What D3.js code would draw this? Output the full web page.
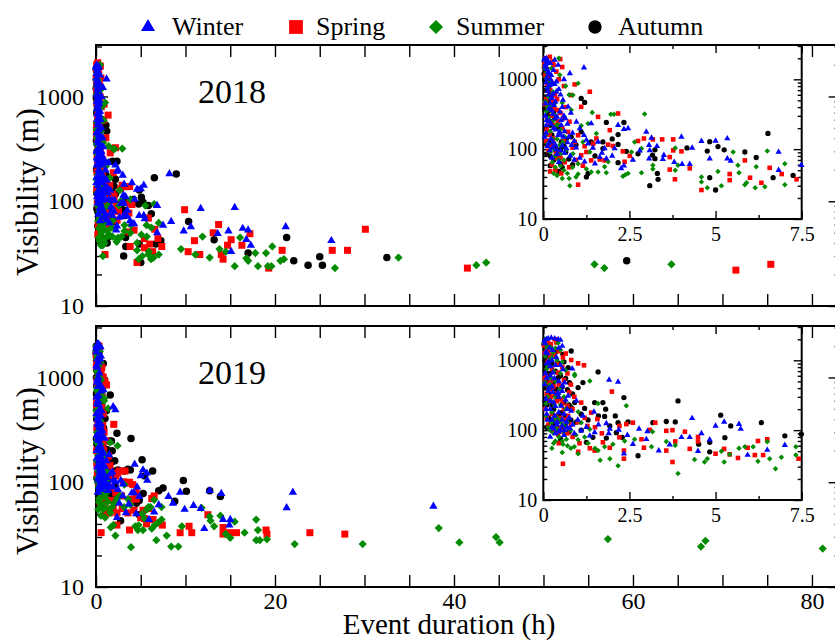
<!DOCTYPE html>
<html>
<head>
<meta charset="utf-8">
<script src="https://cdn.jsdelivr.net/npm/d3@7"></script>
<style>
  body { margin: 0; background: #fff; }
  svg { display: block; }
</style>
</head>
<body>
<svg id="chart" width="835" height="641"></svg>
<script>
// data: [event duration (h), visibility (m)]
const winter2018 = [[0.04,1890],[0.09,1990],[0.14,1786],[0.14,1290],[0.23,1150],[0.43,1603],[0.77,1216],[1.18,1466],[0.38,925],[0.19,827],[0.38,664],[0.23,532],[0.57,505],[0.31,427],[0.72,404],[0.48,343],[0.34,276],[0.64,276],[0.96,245],[0.09,221],[0.52,221],[2.17,221],[1.39,233],[2.46,198],[2.34,193],[1.06,198],[0.62,180],[2.99,177],[0.43,158],[1.18,158],[0.74,150],[4.01,150],[5.34,142],[3.14,145],[1.25,135],[5.0,131],[4.59,130],[0.28,127],[1.59,127],[0.82,114],[3.07,114],[4.32,104],[1.44,104],[0.67,102],[2.07,102],[1.78,102],[0.19,96],[3.09,96],[6.83,91],[3.5,82],[1.64,77],[1.06,75],[1.83,73],[3.07,73],[4.83,73],[5.34,73],[3.47,72],[5.44,68],[4.25,61],[4.03,61],[2.34,58],[7.49,59],[2.26,53],[6.83,50],
  [0.05,1500],[0.1,1050],[0.12,760],[0.16,600],[0.2,450],[0.25,360],[0.06,300],[0.18,250],[0.3,200],[0.08,170],[0.22,140],[0.35,115],[0.12,110],[0.5,95],[0.4,85],[0.28,620],[0.33,850],[0.45,720],[0.55,400],[0.6,300],[0.7,230],[0.85,170],[0.9,130],[0.5,160],[0.3,1350],[0.2,1700],
  [0.03,1950],[0.07,1650],[0.11,1400],[0.16,1200],[0.21,1000],[0.26,880],[0.08,900],[0.13,680],[0.24,560],[0.35,480],[0.06,450],[0.17,380],[0.28,320],[0.4,290],[0.52,260],[0.1,260],[0.22,230],[0.36,190],[0.47,175],[0.58,150],[0.04,150],[0.15,120],[0.27,105],[0.39,98],[0.62,88],[0.78,80],[0.9,70],[1.2,66],[1.5,62],[1.7,88],[2.0,80],[2.6,70],[2.8,95],[3.3,110],[3.8,65],[0.95,105],[1.3,120],[0.7,125],[0.55,112],[0.25,75],[0.45,65],[0.33,1900],[0.6,1000],[0.5,600],[0.8,330],
  [8.2,183],[8.4,64],[9.8,52],[10.6,57],[11.7,85],[13.6,49],[14.8,52],[15.5,87],[16.4,55],[17.0,53],[16.8,43],[17.3,38],[15.1,33],[21.2,57],[26.3,42]];
const spring2018 = [[0.04,1786],[0.19,2100],[0.49,1950],[0.38,1290],[0.23,925],[0.91,845],[1.35,664],[0.34,594],[0.81,594],[0.28,479],[1.1,404],[0.43,363],[2.17,324],[1.59,290],[0.57,276],[0.76,247],[1.93,187],[0.72,177],[1.01,158],[0.28,142],[1.54,142],[2.92,142],[3.18,138],[3.45,138],[3.77,138],[2.75,131],[0.91,127],[1.88,116],[2.02,111],[3.77,96],[2.31,93],[4.01,93],[1.25,91],[0.45,86],[1.1,82],[2.51,80],[3.67,77],[1.64,71],[1.78,69],[1.39,69],[5.85,69],[2.36,66],[6.57,54],[4.25,53],[3.67,51],[0.52,45],[5.41,44],[6.92,44],[6.0,39],[3.82,37],[7.35,37],[5.41,36],[6.33,33],[1.01,31],[4.59,26],
  [0.1,1400],[0.15,1100],[0.2,700],[0.08,520],[0.14,380],[0.25,300],[0.35,220],[0.1,190],[0.18,160],[0.3,120],[0.15,95],[0.4,75],[0.25,60],[0.6,130],[0.55,200],[0.65,400],[0.45,1000],[0.3,1600],[0.07,2000],
  [0.02,1500],[0.06,1150],[0.12,850],[0.18,640],[0.05,440],[0.22,420],[0.32,380],[0.4,520],[0.5,330],[0.12,270],[0.2,240],[0.42,250],[0.08,130],[0.22,110],[0.36,90],[0.5,75],[0.62,65],[0.75,55],[0.35,50],[0.2,48],[0.85,105],[1.2,110],[1.45,120],[0.95,70],[1.15,58],[0.6,800],[0.27,1800],[0.55,1500],
  [9.9,83],[10.3,33],[11.0,42],[11.6,31],[13.1,50],[13.7,60],[14.0,31],[14.2,28],[14.7,38],[15.1,43],[16.3,38],[17.2,49],[19.3,23],[20.8,34],[26.4,34],[28.1,34],[30.1,54],[41.5,23],[71.5,22],[75.4,25]];
const summer2018 = [[0.12,1690],[0.23,1436],[0.48,1150],[1.01,875],[0.28,664],[0.86,594],[0.81,363],[1.42,336],[2.94,318],[1.96,315],[2.05,315],[0.34,307],[0.43,221],[1.1,216],[1.3,233],[1.54,167],[0.62,150],[0.57,127],[1.15,127],[2.65,127],[2.85,102],[3.83,104],[0.67,98],[6.5,94],[2.56,91],[1.35,91],[5.51,91],[0.86,86],[1.88,66],[1.01,62],[7.01,62],[3.91,59],[3.18,59],[5.65,59],[1.78,56],[6.18,56],[3.18,52],[3.83,50],[5.07,48],[1.59,47],[1.39,47],[1.83,46],[2.85,46],[5.68,46],[2.46,45],[1.01,44],[2.38,43],[2.31,41],[4.59,40],[4.59,34],[5.9,33],[5.85,31],[7.01,31],[0.77,30],[5.17,30],[6.43,29],[4.76,28],[6.15,28],
  [0.05,1900],[0.1,1250],[0.18,900],[0.15,560],[0.22,420],[0.09,350],[0.3,260],[0.2,180],[0.4,140],[0.12,120],[0.3,100],[0.5,85],[0.45,70],[0.35,55],[0.6,50],[0.4,42],[0.75,38],[0.55,460],
  [0.03,1450],[0.08,1050],[0.14,750],[0.25,600],[0.06,480],[0.33,450],[0.12,400],[0.25,350],[0.16,280],[0.38,220],[0.5,190],[0.07,160],[0.26,140],[0.48,115],[0.2,90],[0.35,80],[0.6,70],[0.26,65],[0.5,58],[0.85,55],[1.25,52],[0.7,45],[0.95,40],[0.3,45],[0.55,38],[0.45,2000],[0.65,800],[0.75,600],
  [9.5,35],[11.1,31],[11.9,46],[12.7,29],[13.8,35],[14.5,33],[15.5,24],[16.1,45],[16.8,28.5],[17.0,27],[17.8,32],[18.1,24],[19.0,32],[19.2,24],[19.6,24],[19.7,37],[20.6,27],[21.0,28],[26.7,23],[33.8,29],[42.5,24.5],[43.6,26],[55.7,25],[56.8,23],[64.3,25]];
const autumn2018 = [[0.14,827],[0.19,479],[1.1,532],[1.2,467],[0.23,247],[2.34,241],[1.83,241],[1.1,177],[6.52,168],[2.17,162],[0.81,150],[0.67,142],[4.83,128],[0.52,127],[1.73,127],[1.39,127],[2.17,117],[5.07,109],[4.17,104],[1.73,102],[5.25,98],[3.24,98],[4.76,94],[2.41,93],[5.85,91],[2.75,86],[3.17,82],[6.18,76],[3.24,73],[0.74,72],[2.17,64],[0.5,62],[1.3,45],[3.31,45],[7.25,42],[1.25,40],[6.67,39],[4.83,39],[3.33,37],[3.09,30],[5.0,26],
  [0.02,1200],[0.05,950],[0.08,700],[0.1,560],[0.04,380],[0.12,300],[0.3,330],[0.06,200],[0.25,160],[0.15,130],[0.35,105],[0.1,85],[0.4,90],[0.3,70],[0.2,58],[0.45,48],[0.6,110],
  [0.03,1800],[0.06,1500],[0.09,1300],[0.04,1000],[0.16,750],[0.22,620],[0.07,500],[0.27,420],[0.14,350],[0.33,280],[0.2,220],[0.42,200],[0.08,120],[0.28,120],[0.5,100],[0.65,90],[0.2,80],[0.55,55],[0.85,60],[1.5,80],[2.0,140],[0.95,115],
  [8.97,182],[10.35,64],[13.2,43],[17.0,32],[21.3,45],[22.1,27],[23.7,24.5],[25.0,29.6],[25.3,24.5],[32.5,29],[59.3,27]];

const winter2019 = [[0.09,2000],[0.23,2100],[0.43,2000],[0.18,1500],[0.38,1100],[0.84,760],[0.57,740],[0.28,666],[1.91,524],[2.17,490],[0.62,480],[0.43,344],[0.72,310],[0.96,262],[0.52,222],[0.81,188],[1.47,183],[0.33,160],[1.15,160],[4.32,148],[0.67,131],[5.25,131],[1.83,125],[5.68,122],[5.0,115],[0.77,106],[5.73,104],[1.93,104],[2.78,104],[2.19,101],[1.1,98],[3.02,96],[1.49,93],[4.59,90],[2.44,85],[1.35,83],[4.25,79],[4.01,79],[2.99,74],[4.83,73],[2.6,63],[3.67,62],[7.01,61],[6.5,52],[3.35,51],[4.49,50],[2.34,46],[5.93,44],
  [0.05,1750],[0.12,1250],[0.15,950],[0.2,820],[0.1,560],[0.25,420],[0.15,360],[0.08,280],[0.3,250],[0.2,200],[0.12,140],[0.4,120],[0.25,110],[0.5,100],[0.35,90],[0.6,85],[0.45,300],[0.7,200],[0.55,140],
  [0.03,1900],[0.14,2050],[0.33,2050],[0.5,1950],[0.07,1300],[0.27,1400],[0.45,1500],[0.55,1600],[0.1,900],[0.25,1000],[0.35,850],[0.5,850],[0.06,650],[0.2,600],[0.32,550],[0.45,500],[0.55,430],[0.04,450],[0.16,400],[0.28,350],[0.4,330],[0.55,360],[0.65,270],[0.08,200],[0.2,260],[0.35,220],[0.45,180],[0.6,170],[0.75,150],[0.1,170],[0.25,140],[0.4,130],[0.55,115],[0.7,110],[0.85,120],[0.3,105],[0.45,95],[0.62,100],[0.9,90],[1.0,140],[1.25,110],[0.2,80],[1.6,120],[1.9,90],
  [8.1,73],[8.6,63],[9.4,80],[9.9,55],[10.9,60],[11.7,56],[12.1,36],[12.7,83],[14.0,78],[14.2,44],[14.9,39],[15.0,44],[21.3,57],[22.0,80],[37.7,59]];
const spring2019 = [[0.33,2000],[0.14,1770],[0.57,1100],[0.81,1010],[1.01,906],[1.18,849],[0.43,666],[0.23,385],[1.99,357],[0.52,277],[1.1,248],[1.39,178],[0.72,160],[1.57,144],[2.6,128],[3.25,128],[2.41,122],[1.28,115],[2.21,115],[3.75,100],[3.09,101],[3.57,98],[4.11,95],[0.43,87],[4.49,80],[2.21,79],[2.85,74],[6.5,74],[6.23,70],[4.49,69],[3.83,69],[1.73,67],[2.92,56],[1.93,56],[5.93,56],[1.35,55],[4.25,54],[5.25,54],[3.57,51],[2.34,51],[1.49,51],[1.01,49],[5.0,46],[5.41,45],[6.14,44],[6.38,44],[5.65,40],[7.41,39],[2.34,39],[3.75,35],[0.57,33],
  [0.05,1900],[0.1,1400],[0.2,1150],[0.15,850],[0.08,600],[0.3,520],[0.12,450],[0.35,330],[0.18,260],[0.06,200],[0.25,170],[0.4,140],[0.15,120],[0.3,100],[0.5,110],[0.6,200],[0.7,90],[0.45,65],[0.9,300],[0.8,450],
  [0.02,1650],[0.08,1850],[0.22,1700],[0.38,1800],[0.04,1250],[0.15,1300],[0.3,1200],[0.45,1350],[0.65,1250],[0.12,950],[0.25,750],[0.4,900],[0.55,800],[0.7,650],[0.05,550],[0.2,480],[0.3,420],[0.45,450],[0.6,520],[0.75,350],[0.1,330],[0.22,300],[0.4,260],[0.55,240],[0.7,220],[0.85,200],[0.1,150],[0.22,130],[0.35,160],[0.5,150],[0.65,140],[0.8,120],[1.0,130],[0.4,110],[0.6,95],[0.85,80],[1.05,65],[1.2,150],[1.5,110],[1.7,90],
  [9.4,33],[10.4,38],[10.7,33],[12.5,49],[14.2,37],[14.2,32],[15.0,33],[15.7,33],[19.0,35],[19.1,32],[23.9,33],[27.8,32]];
const summer2019 = [[0.43,1770],[0.28,1290],[0.91,631],[0.91,600],[1.35,507],[0.48,385],[1.59,240],[2.41,223],[0.33,222],[1.01,183],[0.23,128],[0.52,128],[1.1,128],[0.77,104],[1.35,103],[3.17,95],[0.67,74],[1.01,73],[2.65,74],[2.36,70],[3.57,69],[6.5,68],[0.57,63],[2.02,63],[3.83,61],[1.78,58],[3.14,58],[5.85,58],[6.09,58],[7.33,58],[5.68,55],[1.59,51],[5.17,50],[1.01,46],[5.41,45],[7.33,44],[6.91,41],[1.93,39],[4.76,39],[6.57,39],[4.39,38],[1.65,37],[6.23,36],[4.68,35],[5.25,35],[2.17,31],[6.74,28],[3.91,24],
  [0.05,2000],[0.12,1500],[0.18,1000],[0.1,750],[0.22,560],[0.15,420],[0.35,300],[0.08,240],[0.25,180],[0.4,150],[0.15,110],[0.3,90],[0.45,80],[0.35,70],[0.6,95],[0.7,130],[0.8,55],[0.55,48],
  [0.02,1800],[0.09,1650],[0.2,1550],[0.35,1500],[0.5,1400],[0.06,1150],[0.25,1100],[0.4,1000],[0.55,950],[0.12,800],[0.3,700],[0.5,650],[0.65,720],[0.05,480],[0.2,450],[0.35,500],[0.45,330],[0.6,300],[0.12,300],[0.22,260],[0.5,230],[0.65,200],[0.08,160],[0.3,140],[0.5,140],[0.6,115],[0.2,100],[0.38,105],[0.8,100],[0.95,85],[1.2,80],[0.55,70],[0.3,65],[0.7,60],[0.9,58],[1.3,65],[1.5,55],[0.25,55],
  [7.9,31],[8.4,24.3],[9.2,24.3],[9.6,38],[11.8,57],[12.7,47],[12.8,43],[13.2,38],[13.9,48],[14.5,32],[15.0,29.5],[15.5,42],[16.6,33],[17.9,44],[18.1,35],[17.9,28],[18.3,28],[19.1,28.5],[22.2,25.7],[29.8,25.7],[38.3,36.5],[40.6,26.6],[44.7,30],[45.1,26.6],[57.2,28.7],[67.6,24.3],[68.1,27.6],[81.2,23.3]];
const autumn2019 = [[0.57,1220],[0.81,1360],[0.28,1153],[0.09,829],[0.72,786],[1.59,681],[0.43,565],[0.76,480],[1.15,480],[1.01,407],[0.38,385],[2.34,293],[3.91,262],[0.91,248],[1.73,248],[1.49,248],[0.81,210],[1.2,205],[1.81,200],[0.52,178],[1.1,169],[5.15,164],[2.09,160],[1.78,157],[3.57,133],[3.83,131],[2.46,131],[2.17,128],[3.18,128],[6.33,128],[0.62,115],[1.93,115],[5.44,115],[2.12,92],[7.49,88],[7.01,83],[2.29,79],[1.44,79],[5.27,78],[1.83,77],[1.25,67],[4.83,67],[4.51,63],[4.83,49],[2.75,43],
  [0.02,1700],[0.05,1000],[0.12,650],[0.18,480],[0.08,400],[0.2,300],[0.1,230],[0.3,200],[0.15,150],[0.35,130],[0.25,100],[0.45,95],[0.5,75],
  [0.04,2000],[0.1,1850],[0.2,1600],[0.35,1300],[0.06,1450],[0.15,1150],[0.25,900],[0.45,900],[0.6,950],[0.05,700],[0.2,650],[0.35,700],[0.5,600],[0.65,550],[0.1,500],[0.28,450],[0.55,420],[0.7,380],[0.85,330],[0.15,320],[0.4,280],[0.6,250],[0.75,230],[0.05,260],[0.25,230],[0.45,170],[0.65,160],[0.8,140],[0.1,110],[0.3,115],[0.55,105],[0.95,130],[1.3,140],[1.6,160],[0.75,95],[1.1,100],
  [8.8,66],[9.76,104],[10.1,82],[12.7,83],[13.9,73]];

// ticks
const xMainTicks = [0,5,10,15,20,25,30,35,40,45,50,55,60,65,70,75,80];
const xMainLabels = [0,20,40,60,80];
const xInsetTicks = [0,2.5,5,7.5];
const xInsetMinor = [1.25,3.75,6.25];
const yTicks = [10,100,1000];
const yMinor = [20,30,40,50,60,70,80,90,200,300,400,500,600,700,800,900,2000,3000];

const seasons = ["Winter", "Spring", "Summer", "Autumn"];
const drawOrder = ["Autumn", "Spring", "Summer", "Winter"];
const years = [
  { label: "2018", top: 45, bottom: 306, insetBottom: 219, titleY: 192, showX: false,
    data: { Winter: winter2018, Spring: spring2018, Summer: summer2018, Autumn: autumn2018 } },
  { label: "2019", top: 326, bottom: 587, insetBottom: 500, titleY: 471, showX: true,
    data: { Winter: winter2019, Spring: spring2019, Summer: summer2019, Autumn: autumn2019 } }
];

const font = "'Liberation Serif', 'DejaVu Serif', serif";
const colors = { Winter: "#0000ff", Spring: "#ff0000", Summer: "#008b00", Autumn: "#000000" };
const shapes = { Winter: d3.symbolTriangle, Spring: d3.symbolSquare, Summer: d3.symbolSquare, Autumn: d3.symbolCircle };
const sizeMain = { Winter: 30, Spring: 49, Summer: 34, Autumn: 44 };
const sizeInset = { Winter: 17, Spring: 21, Summer: 15, Autumn: 22 };
const sizeLegend = { Winter: 85, Spring: 190, Summer: 100, Autumn: 140 };

const svg = d3.select("#chart");
const yDomain = [10, 3100];
const xMain = d3.scaleLinear().domain([0, 83.2]).range([96, 840.6]);
const xInset = d3.scaleLinear().domain([0, 7.5]).range([543.3, 801.7]);

function marker(season, size) {
  return d3.symbol(shapes[season], size)();
}
function place(season, x, y) {
  return d => `translate(${x(d[0])},${y(d[1])})` + (season === "Summer" ? " rotate(45)" : "");
}

// tick marks on all four sides; labels only where asked
function frameAxes(g, x, y, o) {
  const styleAxis = a => a.attr("font-size", o.fontSize).attr("font-family", font)
    .call(s => s.select(".domain").remove())
    .call(s => s.selectAll("line").attr("stroke-width", 1.4));
  const x0 = x.range()[0], x1 = x.range()[1];
  const y0 = y.range()[0], y1 = y.range()[1];

  g.append("g").attr("transform", `translate(0,${y0})`)
    .call(d3.axisBottom(x).tickValues(o.xMajor).tickSize(-o.major).tickPadding(o.xPad)
      .tickFormat(d => (o.xLabels && o.xLabels.includes(d)) ? d : ""))
    .call(styleAxis);
  g.append("g").attr("transform", `translate(0,${y1})`)
    .call(d3.axisTop(x).tickValues(o.xMajor).tickSize(-o.major).tickFormat(""))
    .call(styleAxis);
  if (o.xMinor) {
    g.append("g").attr("transform", `translate(0,${y0})`)
      .call(d3.axisBottom(x).tickValues(o.xMinor).tickSize(-o.minor).tickFormat(""))
      .call(styleAxis);
    g.append("g").attr("transform", `translate(0,${y1})`)
      .call(d3.axisTop(x).tickValues(o.xMinor).tickSize(-o.minor).tickFormat(""))
      .call(styleAxis);
  }
  g.append("g").attr("transform", `translate(${x0},0)`)
    .call(d3.axisLeft(y).tickValues(yTicks).tickSize(-o.major).tickPadding(o.yPad).tickFormat(d3.format("d")))
    .call(styleAxis);
  g.append("g").attr("transform", `translate(${x0},0)`)
    .call(d3.axisLeft(y).tickValues(yMinor).tickSize(-o.minor).tickFormat(""))
    .call(styleAxis);
  g.append("g").attr("transform", `translate(${x1},0)`)
    .call(d3.axisRight(y).tickValues(yTicks).tickSize(-o.major).tickFormat(""))
    .call(styleAxis);
  g.append("g").attr("transform", `translate(${x1},0)`)
    .call(d3.axisRight(y).tickValues(yMinor).tickSize(-o.minor).tickFormat(""))
    .call(styleAxis);

  g.append("rect")
    .attr("x", x0).attr("y", y1)
    .attr("width", x1 - x0).attr("height", y0 - y1)
    .attr("fill", "none").attr("stroke", "#000").attr("stroke-width", 2);
}

function drawPoints(g, x, y, data, sizes, maxX) {
  drawOrder.forEach(season => {
    const pts = data[season].filter(d => d[0] <= maxX);
    g.append("g").selectAll("path")
      .data(pts)
      .join("path")
      .attr("d", marker(season, sizes[season]))
      .attr("transform", place(season, x, y))
      .attr("fill", colors[season]);
  });
}

years.forEach(p => {
  const g = svg.append("g");
  const y = d3.scaleLog().domain(yDomain).range([p.bottom, p.top]);

  frameAxes(g, xMain, y, {
    xMajor: xMainTicks, xLabels: p.showX ? xMainLabels : null,
    major: 12, minor: 6, fontSize: 24, xPad: 5, yPad: 12
  });
  drawPoints(g, xMain, y, p.data, sizeMain, 100);

  // year label
  g.append("text")
    .attr("x", 232).attr("y", p.top + 57.5)
    .attr("text-anchor", "middle")
    .attr("font-family", font).attr("font-size", 34)
    .text(p.label);

  // y title
  g.append("text")
    .attr("transform", `translate(38,${p.titleY}) rotate(-90)`)
    .attr("text-anchor", "middle")
    .attr("font-family", font).attr("font-size", 31)
    .text("Visibility (m)");

  // inset: first 7.5 hours
  const gi = svg.append("g");
  const yi = d3.scaleLog().domain(yDomain).range([p.insetBottom, p.top]);
  gi.append("rect")
    .attr("x", xInset.range()[0]).attr("y", p.top)
    .attr("width", xInset.range()[1] - xInset.range()[0])
    .attr("height", p.insetBottom - p.top)
    .attr("fill", "#fff");
  frameAxes(gi, xInset, yi, {
    xMajor: xInsetTicks, xMinor: xInsetMinor, xLabels: xInsetTicks,
    major: 8, minor: 4, fontSize: 20, xPad: 8, yPad: 6
  });
  drawPoints(gi, xInset, yi, p.data, sizeInset, 7.6);
});

// x title
svg.append("text")
  .attr("x", 449).attr("y", 634)
  .attr("text-anchor", "middle")
  .attr("font-family", font).attr("font-size", 29)
  .text("Event duration (h)");

// legend
const legendX = { Winter: [148, 172], Spring: [296, 316], Summer: [436, 456], Autumn: [595, 618] };
const legend = svg.append("g");
seasons.forEach(s => {
  legend.append("path")
    .attr("d", marker(s, sizeLegend[s]))
    .attr("transform", `translate(${legendX[s][0]},27)` + (s === "Summer" ? " rotate(45)" : ""))
    .attr("fill", colors[s]);
  legend.append("text")
    .attr("x", legendX[s][1]).attr("y", 35)
    .attr("font-family", font).attr("font-size", 26)
    .text(s);
});
</script>
</body>
</html>
